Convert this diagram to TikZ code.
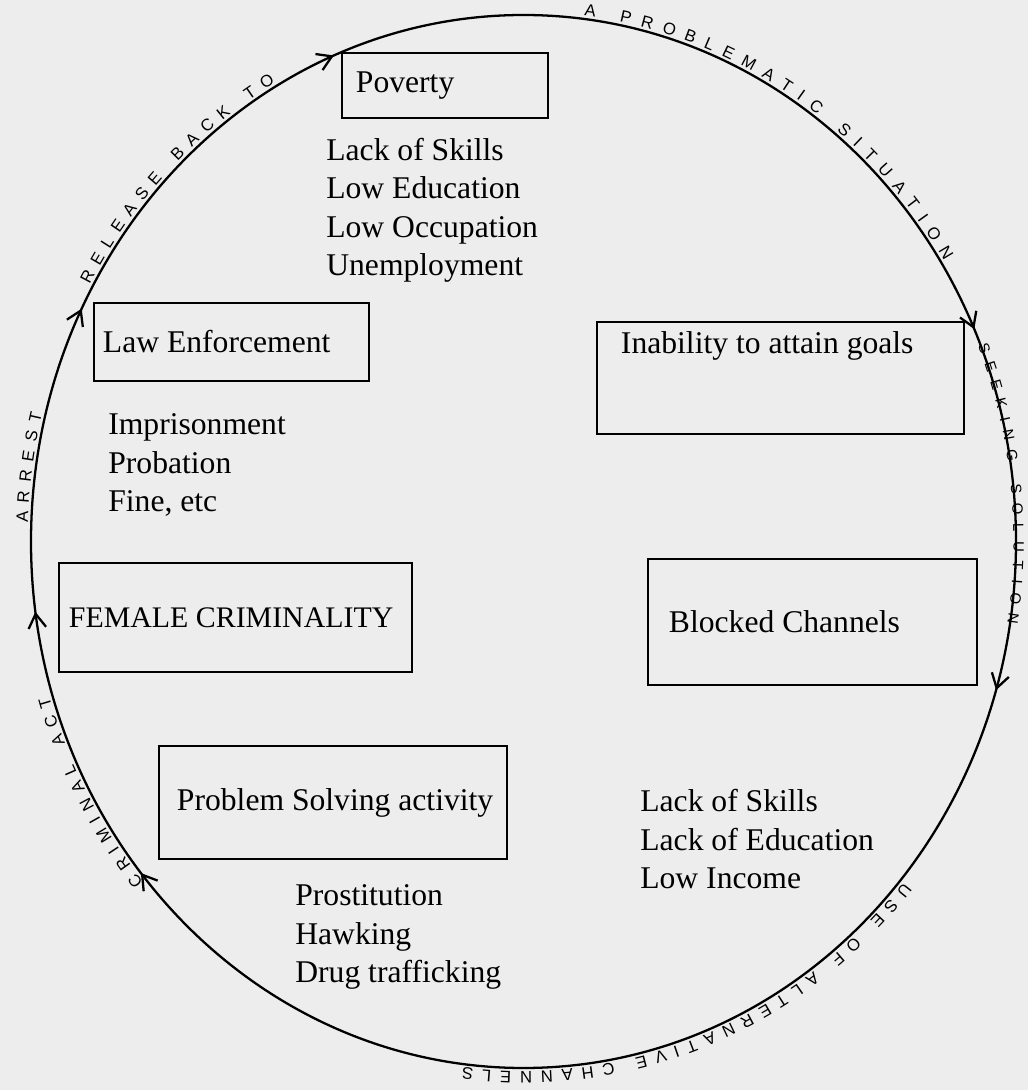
\documentclass[tikz,border=0pt]{standalone}
\usepackage{fontspec}
\setmainfont{Liberation Serif}
\setsansfont{Liberation Sans}
\usetikzlibrary{arrows.meta, decorations.markings, decorations.text, positioning}
\newcommand{\bodyfont}{\fontsize{18}{22}\selectfont}
\newcommand{\handfont}{\sffamily\fontsize{9.5}{10}\selectfont}
\tikzset{
   mybox/.style={draw, line width=1.6pt, inner sep=0pt},
   mytext/.style={font=\bodyfont, inner sep=0pt},
   mylist/.style={font=\bodyfont, align=left, inner sep=0pt, anchor=base west},
   mycycle/.style={line width=1.3pt},
   cyclearrow/.style={postaction={decorate, decoration={markings,
      mark=at position #1 with {\arrowreversed{Straight Barb[length=8pt,width=10pt]}}}}},
   mywriting/.style={decorate, decoration={text along path, raise=2pt,
      text align={fit to path}, text={|\handfont|#1}}}
}

\begin{document}
\begin{tikzpicture}[x=0.02cm, y=0.02cm]
   \path[fill=black!7] (0,0) rectangle (1028,1090);
   \useasboundingbox (0,0) rectangle (1028,1090);

   % the cycle, running clockwise
   \draw[mycycle, cyclearrow/.list={0.068,0.311,0.425,0.522,0.611,0.953}]
      (523.5,548.5) ellipse [x radius=492.5, y radius=526.5];

   % writing along the cycle
   \begin{scope}[shift={(523.5,548.5)}]
      \path[mywriting={A PROBLEMATIC SITUATION}] (83:492.5 and 526.5)
         arc[start angle=83, end angle=32, x radius=492.5, y radius=526.5];
      \path[mywriting={|\sffamily\fontsize{8.5}{9}\selectfont|SEEKING SOLUTION}, decoration={raise=0pt}]
         (22:490 and 524) arc[start angle=22, end angle=-9, x radius=490, y radius=524];
      \path[mywriting={USE OF ALTERNATIVE CHANNELS}] (-40:492.5 and 526.5)
         arc[start angle=-40, end angle=-97, x radius=492.5, y radius=526.5];
      \path[mywriting={CRIMINAL ACT}] (220:492.5 and 526.5)
         arc[start angle=220, end angle=197, x radius=492.5, y radius=526.5];
      \path[mywriting={ARREST}] (178:492.5 and 526.5)
         arc[start angle=178, end angle=166, x radius=492.5, y radius=526.5];
      \path[mywriting={RELEASE BACK TO}] (151:492.5 and 526.5)
         arc[start angle=151, end angle=120, x radius=492.5, y radius=526.5];
   \end{scope}

   % boxes
   \node[mybox, minimum width=4.12cm, minimum height=1.30cm] (poverty) at (445,1004.5) {};
   \node[mytext, right=0.3cm of poverty.west] (povertytext) {Poverty};

   \node[mybox, minimum width=5.50cm, minimum height=1.56cm] (law) at (231.5,748) {};
   \node[mytext, right=0.2cm of law.west] (lawtext) {Law Enforcement};

   \node[mybox, minimum width=7.34cm, minimum height=2.24cm] (inability) at (780.5,712) {};
   \node[mytext, below right=0.22cm and 0.5cm of inability.north west] (inabilitytext) {Inability to attain goals};

   \node[mybox, minimum width=7.06cm, minimum height=2.18cm] (female) at (235.5,472.5) {};
   \node[mytext, font=\fontsize{17}{22}\selectfont, right=0.22cm of female.west] (femaletext) {FEMALE CRIMINALITY};

   \node[mybox, minimum width=6.58cm, minimum height=2.52cm] (blocked) at (812.5,468) {};
   \node[mytext, right=0.44cm of blocked.west] (blockedtext) {Blocked Channels};

   \node[mybox, minimum width=6.96cm, minimum height=2.26cm] (solving) at (333,287.5) {};
   \node[mytext, right=0.38cm of solving.west] (solvingtext) {Problem Solving activity};

   % lists (base = last line)
   \node[mylist] (povertylist) at (326,814) {Lack of Skills\\Low Education\\Low Occupation\\Unemployment};
   \node[mylist] (lawlist) at (108,578) {Imprisonment\\Probation\\Fine, etc};
   \node[mylist] (blockedlist) at (640,201) {Lack of Skills\\Lack of Education\\Low Income};
   \node[mylist] (solvinglist) at (295,107) {Prostitution\\Hawking\\Drug trafficking};
\end{tikzpicture}
\end{document}
